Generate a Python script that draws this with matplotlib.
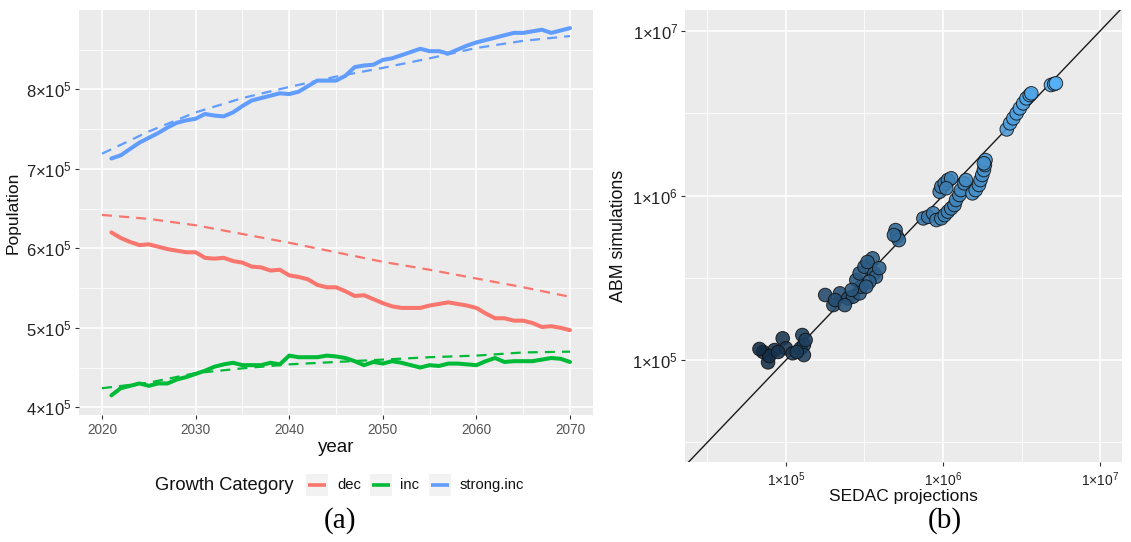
import matplotlib
matplotlib.use("Agg")
import matplotlib.pyplot as plt
import numpy as np
from matplotlib.colors import LinearSegmentedColormap, Normalize
from matplotlib.ticker import FixedLocator, FuncFormatter, NullFormatter
from matplotlib.patches import Rectangle
from matplotlib.lines import Line2D

plt.rcParams['font.family'] = ['Liberation Sans', 'DejaVu Sans']
plt.rcParams['mathtext.fontset'] = 'custom'
plt.rcParams['mathtext.rm'] = 'Liberation Sans'
plt.rcParams['mathtext.it'] = 'Liberation Sans:italic'
plt.rcParams['mathtext.bf'] = 'Liberation Sans:bold'

# ---------------- data: panel (a) ----------------
years_sim = list(range(2021, 2071))
dec_sim = [6.20, 6.13, 6.08, 6.04, 6.05, 6.02, 5.99, 5.97, 5.95, 5.95,
           5.88, 5.87, 5.88, 5.84, 5.82, 5.77, 5.76, 5.72, 5.73, 5.66,
           5.64, 5.61, 5.54, 5.51, 5.51, 5.46, 5.40, 5.41, 5.36, 5.31,
           5.27, 5.25, 5.25, 5.25, 5.28, 5.30, 5.32, 5.30, 5.28, 5.25,
           5.18, 5.12, 5.12, 5.09, 5.09, 5.06, 5.01, 5.02, 5.00, 4.97]
inc_sim = [4.15, 4.24, 4.27, 4.30, 4.27, 4.30, 4.30, 4.35, 4.38, 4.42,
           4.46, 4.51, 4.54, 4.56, 4.53, 4.53, 4.53, 4.56, 4.54, 4.65,
           4.63, 4.63, 4.63, 4.65, 4.64, 4.62, 4.58, 4.53, 4.57, 4.55,
           4.58, 4.56, 4.53, 4.50, 4.53, 4.52, 4.55, 4.55, 4.54, 4.53,
           4.58, 4.62, 4.57, 4.58, 4.58, 4.58, 4.60, 4.62, 4.61, 4.57]
strong_sim = [7.13, 7.17, 7.25, 7.33, 7.39, 7.45, 7.52, 7.58, 7.61, 7.63,
              7.69, 7.67, 7.66, 7.71, 7.79, 7.86, 7.89, 7.92, 7.95, 7.94,
              7.97, 8.04, 8.11, 8.11, 8.11, 8.17, 8.28, 8.30, 8.31, 8.37,
              8.39, 8.43, 8.47, 8.51, 8.48, 8.48, 8.45, 8.50, 8.55, 8.59,
              8.62, 8.65, 8.68, 8.71, 8.71, 8.73, 8.75, 8.71, 8.74, 8.77]

years_proj = [2020, 2025, 2030, 2035, 2040, 2045, 2050, 2055, 2060, 2065, 2070]
dec_proj = [6.42, 6.37, 6.29, 6.18, 6.07, 5.95, 5.83, 5.73, 5.62, 5.51, 5.39]
inc_proj = [4.24, 4.31, 4.43, 4.49, 4.54, 4.57, 4.60, 4.63, 4.65, 4.69, 4.70]
strong_proj = [7.19, 7.47, 7.71, 7.89, 8.03, 8.16, 8.27, 8.39, 8.52, 8.61, 8.67]
value_unit = 1e5

categories = ['dec', 'inc', 'strong.inc']
cat_colors = ['#F8766D', '#00BA38', '#619CFF']

y_ticks_a = [4e5, 5e5, 6e5, 7e5, 8e5]
x_ticks_a = [2020, 2030, 2040, 2050, 2060, 2070]

# ---------------- data: panel (b) ----------------
sedac = [71500, 76900, 84600, 95300, 100000, 110200, 124100, 127100, 130100, 130100,
         78300, 89100, 117200, 133400, 67800,
         177800, 200400, 220800, 248900, 267300, 294400, 301400, 280500, 294400, 316200,
         356400, 365200, 374100, 339600, 324300, 205400, 237100, 330400, 392500, 262400,
         499000, 510500, 523600, 487000,
         749900, 805400, 866000, 907800, 975000, 1025000, 1074000, 1127000, 1183000, 1211000,
         1271000, 1300000, 1368000, 1400000, 952600, 975000, 1025000, 1074000, 1127000, 1049000,
         1540000, 1615000, 1694000, 1734000, 1778000, 1823000, 1849000, 1866000, 1823000,
         2547000, 2673000, 2805000, 2944000, 3085000, 3241000, 3398000, 3564000, 3652000,
         4870000, 5105000, 5236000]
abm = [112000, 96800, 115000, 135500, 117800, 109900, 117800, 141900, 123300, 107200,
       105700, 111900, 111900, 132400, 116700,
       248500, 215800, 254300, 237100, 242700, 254300, 279300, 306300, 336500, 369000,
       415000, 336500, 320700, 299200, 279300, 231700, 215800, 394500, 362200, 266700,
       616600, 562300, 535800, 575400,
       726100, 743000, 779800, 709600, 726100, 760300, 798000, 835600, 875000, 939700,
       1007000, 1079000, 1186000, 1242000, 1054000, 1132000, 1186000, 1242000, 1273000, 1107000,
       1031000, 1079000, 1159000, 1242000, 1333000, 1429000, 1532000, 1644000, 1570000,
       2523000, 2748000, 2946000, 3160000, 3390000, 3633000, 3898000, 4085000, 4181000,
       4699000, 4765000, 4811000]
log_ticks_b = [1e5, 1e6, 1e7]
minor_ticks_b = [10 ** 4.5, 10 ** 5.5, 10 ** 6.5]

# ---------------- figure ----------------
W, H = 1131, 542
fig = plt.figure(figsize=(W / 100, H / 100), dpi=100)


def fx(px):
    return px / W


def fy(py):
    return 1 - py / H


BG = '#EBEBEB'


def style_axes(ax):
    ax.set_facecolor(BG)
    for s in ax.spines.values():
        s.set_visible(False)
    ax.grid(which='major', color='white', linewidth=1.1)
    ax.grid(which='minor', color='white', linewidth=0.55)
    ax.set_axisbelow(True)
    ax.tick_params(which='major', length=3, width=0.8, color='#333333')
    ax.tick_params(which='minor', length=0)


# panel (a)
axa = fig.add_axes([fx(79), fy(415), fx(593 - 79), (415 - 10) / H])
style_axes(axa)
series_sim = [dec_sim, inc_sim, strong_sim]
series_proj = [dec_proj, inc_proj, strong_proj]
for sim, proj, col in zip(series_sim, series_proj, cat_colors):
    axa.plot(years_proj, np.array(proj) * value_unit, color=col, lw=1.6,
             dashes=(4.5, 3.2), solid_capstyle='butt')
    axa.plot(years_sim, np.array(sim) * value_unit, color=col, lw=2.9,
             solid_joinstyle='round', solid_capstyle='round')
axa.set_xlim(2017.54, 2072.46)
axa.set_ylim(3.903e5, 8.998e5)
axa.xaxis.set_major_locator(FixedLocator(x_ticks_a))
axa.xaxis.set_minor_locator(FixedLocator([2025, 2035, 2045, 2055, 2065]))
axa.yaxis.set_major_locator(FixedLocator(y_ticks_a))
axa.yaxis.set_minor_locator(FixedLocator([4.5e5, 5.5e5, 6.5e5, 7.5e5, 8.5e5]))


def sci_fmt(v, pos=None):
    e = int(np.floor(np.log10(v) + 1e-9))
    m = int(round(v / 10 ** e))
    return r'$\mathregular{%d{\times}10^{%d}}$' % (m, e)


axa.yaxis.set_major_formatter(FuncFormatter(sci_fmt))
axa.tick_params(axis='y', labelsize=12, labelcolor='#222222', pad=2)
axa.tick_params(axis='x', labelsize=9.8, labelcolor='#555555', pad=3)
axa.set_xlabel('year', fontsize=13.5, labelpad=1, color='#111111')
axa.set_ylabel('Population', fontsize=12.5, labelpad=4, color='#111111')

# legend (a)
fig.text(fx(155), fy(485), 'Growth Category', fontsize=13.2, ha='left', va='center', color='#111111')
key_x = [306, 370, 429]
lab_x = [337, 400, 460]
for kx, lx, col, name in zip(key_x, lab_x, cat_colors, categories):
    fig.patches.append(Rectangle((fx(kx), fy(496)), fx(22), 22 / H, transform=fig.transFigure,
                                 facecolor='#F2F2F2', edgecolor='none'))
    fig.lines.append(Line2D([fx(kx + 2), fx(kx + 20)], [fy(485), fy(485)], transform=fig.transFigure,
                            color=col, lw=2.6, solid_capstyle='butt'))
    fig.text(fx(lx), fy(485), name, fontsize=10.6, ha='left', va='center', color='#111111')

fig.text(fx(340), fy(521), '(a)', fontsize=21, ha='center', va='center',
         family=['Liberation Serif', 'DejaVu Serif'], color='black')

# panel (b)
axb = fig.add_axes([fx(685), fy(462), fx(1122 - 685), (462 - 10) / H])
style_axes(axb)
axb.set_xscale('log')
axb.set_yscale('log')
axb.set_xlim(10 ** 4.357, 10 ** 7.14)
axb.set_ylim(10 ** 4.38, 10 ** 7.128)
axb.xaxis.set_major_locator(FixedLocator(log_ticks_b))
axb.yaxis.set_major_locator(FixedLocator(log_ticks_b))
axb.xaxis.set_minor_locator(FixedLocator(minor_ticks_b))
axb.yaxis.set_minor_locator(FixedLocator(minor_ticks_b))
axb.xaxis.set_minor_formatter(NullFormatter())
axb.yaxis.set_minor_formatter(NullFormatter())
axb.xaxis.set_major_formatter(FuncFormatter(sci_fmt))
axb.yaxis.set_major_formatter(FuncFormatter(sci_fmt))
axb.tick_params(axis='y', labelsize=12, labelcolor='#222222', pad=2)
axb.tick_params(axis='x', labelsize=10, labelcolor='#222222', pad=3)
axb.axline((1e5, 1e5), (1e6, 1e6), color='#1a1a1a', lw=1.0, zorder=2)

cmap = LinearSegmentedColormap.from_list('gg', ['#132B43', '#56B1F7'])
cvals = np.log10(np.array(sedac))
axb.scatter(sedac, abm, c=cvals, cmap=cmap, norm=Normalize(cvals.min(), cvals.max()),
            s=95, edgecolors='#111111', linewidths=0.7, alpha=0.88, zorder=3)
axb.set_xlabel('SEDAC projections', fontsize=12.5, labelpad=0, color='#111111')
axb.set_ylabel('ABM simulations', fontsize=12.8, labelpad=4, color='#111111')

fig.text(fx(945), fy(521), '(b)', fontsize=21, ha='center', va='center',
         family=['Liberation Serif', 'DejaVu Serif'], color='black')

fig.savefig('out.png', dpi=100, facecolor='white')
